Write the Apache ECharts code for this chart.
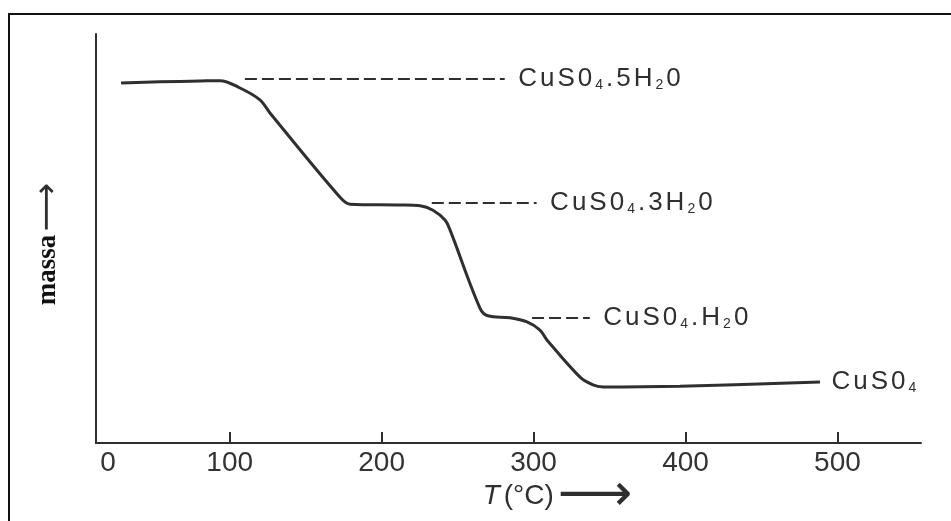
<!DOCTYPE html>
<html>
<head>
<meta charset="utf-8">
<script src="https://cdn.jsdelivr.net/npm/echarts@6/dist/echarts.min.js"></script>
<style>
  html, body { margin: 0; padding: 0; background: #fff; }
  #wrap { position: relative; width: 951px; height: 521px; overflow: hidden; }
  #chart { width: 951px; height: 521px; }
  /* scanned page frame */
  #frame { position: absolute; left: 8px; top: 13px; width: 1000px; height: 1000px;
           border-left: 2px solid #111; border-top: 2px solid #111; pointer-events: none; }
</style>
</head>
<body>
<div id="wrap"><div id="chart"></div><div id="frame"></div></div>
<script>
// TG curve of CuSO4.5H2O (mass in arbitrary units, 0..100)
const tempC = [28.5, 54, 80.5, 93.6, 106.8, 119.9, 126.5, 172.6, 179.2, 212.1, 225.3, 233.8, 241.7, 245.0,
               264.7, 270.0, 284.5, 295.7, 304.2, 308.8, 330.6, 339.1, 345.7, 396.4, 488.5];
const mass = [88.0, 88.3, 88.5, 88.6, 86.8, 83.9, 80.7, 60.1, 58.4, 58.2, 58.0, 56.9, 54.5, 52.1,
              33.0, 31.1, 30.6, 29.6, 27.6, 25.2, 16.1, 14.2, 13.7, 13.9, 14.9];

// x axis: the drawn axis starts a little right of 0
const xMin = 12, xMax = 555;
const tickValues = [100, 200, 300, 400, 500];
const labelValues = [xMin, 100, 200, 300, 400, 500];
const labelTexts = ['0', '100', '200', '300', '400', '500'];

// dashed leader lines to the hydrate names ("_" = next char subscript)
const leaderNames = ['CuS0_4.5H_20', 'CuS0_4.3H_20', 'CuS0_4.H_20'];
const leaderFrom = [110, 233, 299];
const leaderTo = [281, 302, 337];
const leaderLevel = [89.0, 58.7, 30.6];
const endName = 'CuS0_4';

const ink = '#2f2f2f';

function richFormula(s) {
  let out = '';
  for (let i = 0; i < s.length; i++) {
    if (s[i] === '_') out += '{s|' + s[++i] + '}';
    else out += '{b|' + s[i] + '}';
  }
  return out;
}

const formulaRich = {
  b: { fontSize: 26, fontFamily: 'Liberation Sans', color: ink, padding: [0, 1.5] },
  s: { fontSize: 14, fontFamily: 'Liberation Sans', color: ink, padding: [0, 1.5], verticalAlign: 'bottom' }
};

const chart = echarts.init(document.getElementById('chart'));

chart.setOption({
  animation: false,
  backgroundColor: '#fff',
  grid: { left: 96, right: 30, top: 34, bottom: 78, containLabel: false, outerBoundsMode: 'none' },
  xAxis: {
    type: 'value',
    min: xMin,
    max: xMax,
    splitLine: { show: false },
    axisLine: { onZero: false, lineStyle: { color: ink, width: 2 } },
    axisTick: { show: true, inside: true, length: 11, customValues: tickValues, lineStyle: { color: ink, width: 2 } },
    axisLabel: {
      customValues: labelValues,
      margin: 6,
      fontSize: 28,
      fontFamily: 'Liberation Sans',
      color: '#333',
      formatter: v => {
        const t = labelTexts[labelValues.indexOf(v)];
        return v === xMin ? '{z|' + t + '}' : t;
      },
      rich: { z: { fontSize: 28, fontFamily: 'Liberation Sans', color: '#333', padding: [0, 0, 0, 24] } }
    },
    name: '{t|T}{n|(°C)}{a|⟶}',
    nameLocation: 'middle',
    nameGap: 27,
    nameMoveOverlap: false,
    nameTextStyle: {
      padding: [0, 0, 0, 96],
      rich: {
        t: { fontSize: 28, fontStyle: 'italic', fontFamily: 'Liberation Sans', color: ink, padding: [0, 2] },
        n: { fontSize: 28, fontFamily: 'Liberation Sans', color: ink, padding: [0, 4, 0, 2] },
        a: { fontSize: 52, fontFamily: 'DejaVu Sans', color: ink }
      }
    }
  },
  yAxis: {
    type: 'value',
    min: 0,
    max: 100,
    splitLine: { show: false },
    axisTick: { show: false },
    axisLabel: { show: false },
    axisLine: { show: true, onZero: false, lineStyle: { color: ink, width: 2 } },
    name: '{m|massa} {a|⟶}',
    nameLocation: 'middle',
    nameGap: 31,
    nameMoveOverlap: false,
    nameTextStyle: {
      padding: [0, 11, 0, 0],
      rich: {
        m: { fontSize: 27, fontWeight: 'bold', fontFamily: 'Liberation Serif', color: '#111' },
        a: { fontSize: 34, fontFamily: 'DejaVu Sans', color: ink }
      }
    }
  },
  series: [{
    type: 'line',
    data: tempC.map((t, i) => [t, mass[i]]),
    smooth: 0.35,
    showSymbol: false,
    silent: true,
    lineStyle: { color: ink, width: 3 },
    endLabel: { show: true, distance: 10, formatter: () => richFormula(endName), rich: formulaRich },
    markLine: {
      symbol: 'none',
      silent: true,
      lineStyle: { type: [12, 5], color: ink, width: 2 },
      label: { position: 'end', distance: 12, formatter: p => richFormula(p.name), rich: formulaRich },
      data: leaderNames.map((n, i) => [
        { name: n, coord: [leaderFrom[i], leaderLevel[i]] },
        { coord: [leaderTo[i], leaderLevel[i]] }
      ])
    }
  }]
});
</script>
</body>
</html>
